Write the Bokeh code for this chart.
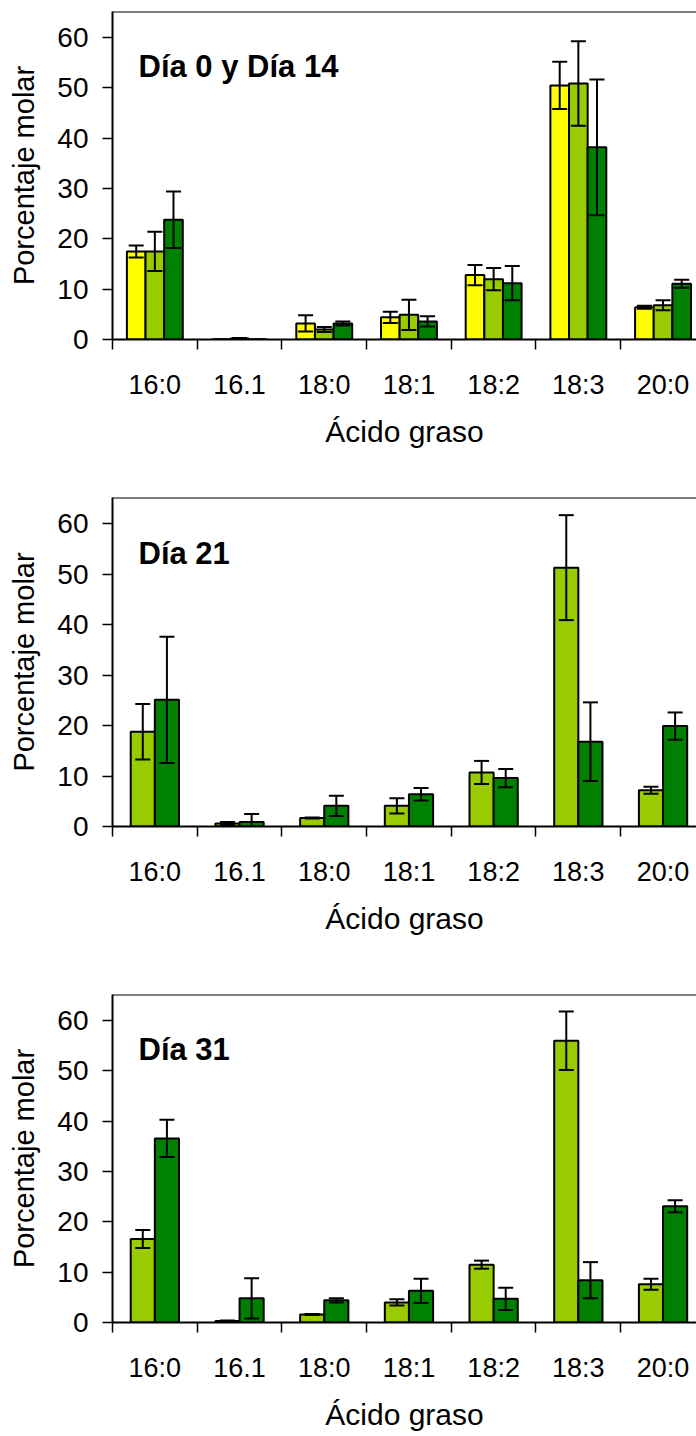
from bokeh.plotting import figure
from bokeh.models import (ColumnDataSource, Whisker, TeeHead, FixedTicker, Label, Span, Range1d)
from bokeh.layouts import column
from bokeh.embed import file_html
from bokeh.resources import INLINE

# ---------------- data ----------------
categories = ["16:0", "16.1", "18:0", "18:1", "18:2", "18:3", "20:0"]
y_ticks = [0, 10, 20, 30, 40, 50, 60]

# Panel 1: Día 0 y Día 14 (three series)
p1_yellow = [17.5, 0.0, 3.2, 4.4, 12.8, 50.5, 6.4]
p1_yellow_err = [1.2, 0.0, 1.6, 1.1, 2.0, 4.7, 0.3]
p1_light = [17.5, 0.2, 2.0, 4.9, 12.0, 50.9, 6.8]
p1_light_err = [3.9, 0.1, 0.5, 3.0, 2.2, 8.4, 1.0]
p1_dark = [23.8, 0.0, 3.2, 3.6, 11.2, 38.2, 11.1]
p1_dark_err = [5.6, 0.0, 0.4, 1.0, 3.4, 13.5, 0.8]

# Panel 2: Día 21
p2_light = [18.8, 0.6, 1.7, 4.1, 10.7, 51.3, 7.2]
p2_light_err = [5.5, 0.3, 0.1, 1.5, 2.3, 10.4, 0.7]
p2_dark = [25.1, 0.9, 4.1, 6.4, 9.6, 16.8, 19.9]
p2_dark_err = [12.5, 1.6, 2.0, 1.25, 1.8, 7.8, 2.7]

# Panel 3: Día 31
p3_light = [16.6, 0.3, 1.6, 4.0, 11.5, 56.0, 7.6]
p3_light_err = [1.8, 0.1, 0.1, 0.6, 0.8, 5.8, 1.1]
p3_dark = [36.6, 4.8, 4.4, 6.3, 4.7, 8.4, 23.1]
p3_dark_err = [3.7, 4.0, 0.4, 2.4, 2.2, 3.6, 1.2]

YELLOW = "#FFFF00"
LIGHT = "#99CC00"
DARK = "#008000"
FONT = "Liberation Sans"

X_END = 6.895
Y_END = 65.2


def make_panel(title, series, bar_w, height, border_top, border_bottom):
    p = figure(width=696, height=height, output_backend="svg", toolbar_location=None,
               x_range=Range1d(0, X_END), y_range=Range1d(0, Y_END),
               min_border_left=112, min_border_right=0,
               min_border_top=border_top, min_border_bottom=border_bottom,
               outline_line_color=None, background_fill_color="white",
               border_fill_color="white")
    p.xgrid.visible = False
    p.ygrid.visible = False

    n = len(series)
    for k, (vals, errs, color) in enumerate(series):
        off = (k - (n - 1) / 2) * bar_w
        xs = [i + 0.5 + off for i in range(len(categories))]
        src = ColumnDataSource(dict(x=xs, top=vals,
                                    upper=[v + e for v, e in zip(vals, errs)],
                                    lower=[v - e for v, e in zip(vals, errs)]))
        p.vbar(x="x", top="top", width=bar_w, bottom=0, source=src,
               fill_color=color, line_color="black", line_width=2)
        w = Whisker(base="x", upper="upper", lower="lower", source=src,
                    line_color="black", line_width=2, level="overlay",
                    upper_head=TeeHead(size=15, line_width=2, line_color="black"),
                    lower_head=TeeHead(size=15, line_width=2, line_color="black"))
        p.add_layout(w)

    # top border of the frame
    p.add_layout(Span(location=Y_END, dimension="width", line_color="black", line_width=2))

    # x axis
    xa = p.xaxis[0]
    xa.ticker = FixedTicker(ticks=[i + 0.5 for i in range(len(categories))],
                            minor_ticks=list(range(len(categories) + 1)))
    xa.major_label_overrides = {i + 0.5: c for i, c in enumerate(categories)}
    xa.major_tick_line_color = None
    xa.major_tick_out = 10
    xa.major_tick_in = 0
    xa.minor_tick_line_color = "black"
    xa.minor_tick_line_width = 1.5
    xa.minor_tick_out = 10
    xa.minor_tick_in = 0
    xa.axis_line_width = 2
    xa.major_label_text_font = FONT
    xa.major_label_text_font_size = "27px"
    xa.major_label_text_color = "black"
    xa.major_label_standoff = 20
    xa.axis_label = "Ácido graso"
    xa.axis_label_text_font = FONT
    xa.axis_label_text_font_size = "30px"
    xa.axis_label_text_font_style = "normal"
    xa.axis_label_text_color = "black"
    xa.axis_label_standoff = 12

    # y axis
    ya = p.yaxis[0]
    ya.ticker = FixedTicker(ticks=y_ticks, minor_ticks=[])
    ya.major_tick_out = 10
    ya.major_tick_in = 0
    ya.major_tick_line_width = 1.5
    ya.axis_line_width = 2
    ya.major_label_text_font = FONT
    ya.major_label_text_font_size = "28px"
    ya.major_label_text_color = "black"
    ya.major_label_standoff = 14
    ya.axis_label = "Porcentaje molar"
    ya.axis_label_text_font = FONT
    ya.axis_label_text_font_size = "29px"
    ya.axis_label_text_font_style = "normal"
    ya.axis_label_text_color = "black"
    ya.axis_label_standoff = 14

    p.add_layout(Label(x=0.307, y=54.2, text=title, text_font=FONT,
                       text_font_style="bold", text_font_size="31px",
                       text_color="black", text_baseline="alphabetic"))
    return p


fig1 = make_panel("Día 0 y Día 14",
                  [(p1_yellow, p1_yellow_err, YELLOW),
                   (p1_light, p1_light_err, LIGHT),
                   (p1_dark, p1_dark_err, DARK)],
                  0.22, 489, 11, 150)
fig2 = make_panel("Día 21",
                  [(p2_light, p2_light_err, LIGHT),
                   (p2_dark, p2_dark_err, DARK)],
                  0.285, 496, 8, 159)
fig3 = make_panel("Día 31",
                  [(p3_light, p3_light_err, LIGHT),
                   (p3_dark, p3_dark_err, DARK)],
                  0.285, 451, 9, 114)

layout = column(fig1, fig2, fig3, spacing=0)
open("out.html", "w").write(file_html(layout, INLINE))
